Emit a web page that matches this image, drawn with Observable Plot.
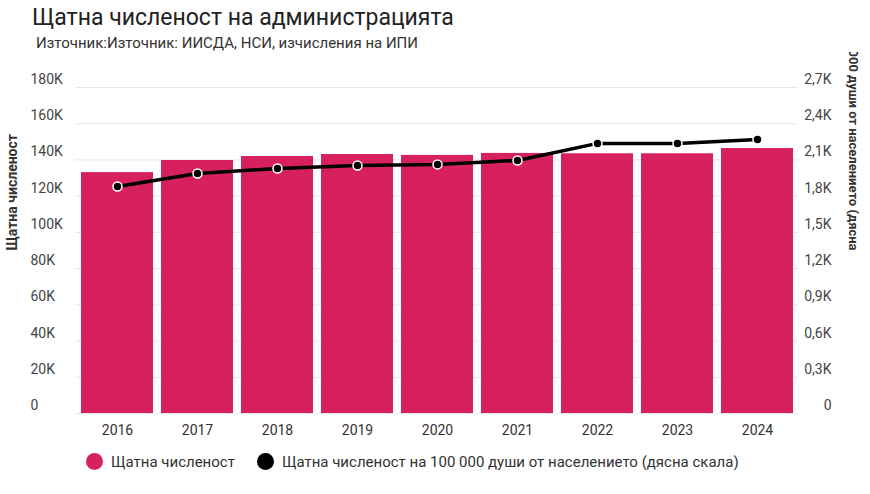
<!DOCTYPE html><html><head><meta charset="utf-8">
<script src="https://cdn.jsdelivr.net/npm/d3@7"></script>
<script src="https://cdn.jsdelivr.net/npm/@observablehq/plot@0.6"></script>
<style>body{margin:0;font-family:Roboto,sans-serif;background:#fff;width:870px;overflow:hidden}
h1{font-size:23px;font-weight:400;margin:4px 0 0 32px;color:#222}
.sub{font-size:15px;color:#333;margin:3px 0 0 36px}
.leg{display:flex;gap:22px;margin:6px 0 0 86px;font-size:15px;color:#333;align-items:center}
.dot{display:inline-block;width:17px;height:17px;border-radius:50%;margin-right:8px;vertical-align:-3px}
</style></head><body>
<h1>Щатна численост на администрацията</h1>
<div class="sub">Източник:Източник: ИИСДА, НСИ, изчисления на ИПИ</div>
<div id="c"></div>
<div class="leg"><span><span class="dot" style="background:#d6215d"></span>Щатна численост</span><span><span class="dot" style="background:#000"></span>Щатна численост на 100 000 души от населението (дясна скала)</span></div>
<script>
const years=["2016","2017","2018","2019","2020","2021","2022","2023","2024"];
const staff=[133000,139700,141900,143000,142500,143600,143400,143400,146300];
const perCapita=[1880,1988,2029,2054,2063,2096,2237,2237,2270];
const leftTicks=[0,20000,40000,60000,80000,100000,120000,140000,160000,180000];
const rightTicks=[0,300,600,900,1200,1500,1800,2100,2400,2700];
const k=180000/2700;
const bars=years.map((y,i)=>({year:y,v:staff[i]}));
const line=years.map((y,i)=>({year:y,v:perCapita[i]*k}));
const fmtL=t=>t===0?"0":(t/1000)+"K";
const fmtR=t=>t===0?"0":String(t/1000).replace(".",",")+"K";
const p=Plot.plot({width:870,height:395,marginTop:35,marginBottom:34,marginLeft:75,marginRight:72,
style:{fontFamily:"Roboto,sans-serif",fontSize:"14px",color:"#333"},
x:{domain:years,paddingInner:0.1,paddingOuter:0.02,label:null,tickSize:0},
y:{domain:[0,180000],axis:null},
marks:[
Plot.ruleY(leftTicks,{stroke:"#e6e6e6"}),
Plot.text(leftTicks,{y:d=>d,text:fmtL,frameAnchor:"left",dx:-45,dy:-8,textAnchor:"start",fontSize:14,fill:"#444"}),
Plot.text(rightTicks,{y:d=>d*k,text:fmtR,frameAnchor:"right",dx:33,dy:-8,textAnchor:"end",fontSize:14,fill:"#444"}),
Plot.barY(bars,{x:"year",y:"v",fill:"#d6215d"}),
Plot.axisX({tickSize:0,fontSize:14,tickPadding:12}),
Plot.line(line,{x:"year",y:"v",stroke:"#000",strokeWidth:3.5}),
Plot.dot(line,{x:"year",y:"v",r:4.5,fill:"#000",stroke:"#fff",strokeWidth:1.5}),
Plot.text(["Щатна численост"],{frameAnchor:"left",dx:-63,rotate:-90,fontWeight:"bold",fontSize:14,fill:"#333"}),
Plot.text(["численост на 100 000 души от населението (дясна"],{frameAnchor:"right",dx:55,dy:0,rotate:90,fontWeight:"bold",fontSize:13,fill:"#333"})
]});
document.getElementById("c").appendChild(p);
</script></body></html>
